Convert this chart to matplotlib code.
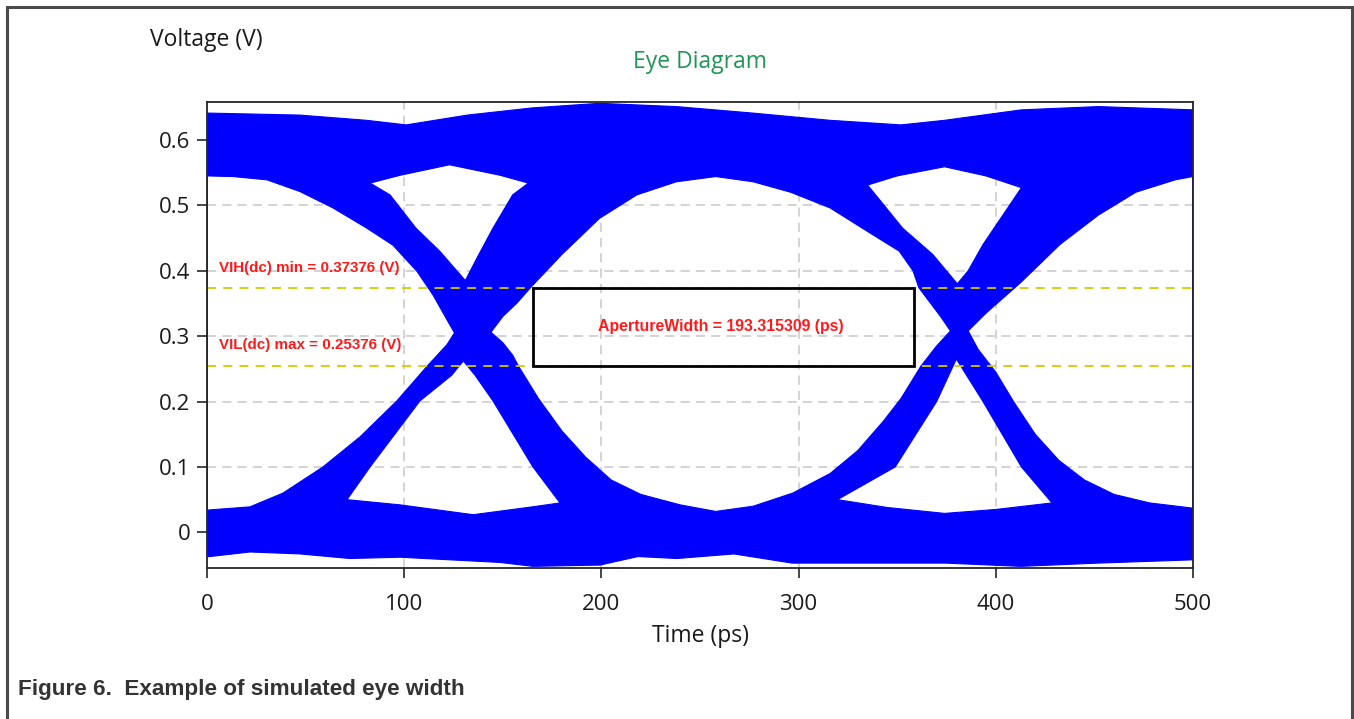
import matplotlib
matplotlib.use("Agg")
import matplotlib.pyplot as plt
from matplotlib.path import Path
from matplotlib.patches import PathPatch, Rectangle
from matplotlib import font_manager
from matplotlib.lines import Line2D

# ---------------- data ----------------
time_ticks = [0, 100, 200, 300, 400, 500]
volt_ticks = [0.0, 0.1, 0.2, 0.3, 0.4, 0.5, 0.6]
volt_tick_labels = ["0", "0.1", "0.2", "0.3", "0.4", "0.5", "0.6"]

vih_level = 0.37376
vil_level = 0.25376
aperture_start = 165.2
aperture_width = 193.315309

# outer envelope of all traces (top of upper rail, bottom of lower rail)
upper_env_t = [0, 1.5, 47, 81, 101, 132, 165, 199, 238, 277, 316, 352, 374, 413, 452, 500]
upper_env_v = [0.641, 0.641, 0.638, 0.630, 0.623, 0.638, 0.649, 0.656, 0.651, 0.641,
               0.630, 0.623, 0.630, 0.646, 0.651, 0.646]
lower_env_t = [0, 1.5, 21.8, 47.2, 72.5, 97.9, 123.2, 148.6, 165.3, 199.3, 218.6,
               238.3, 267.2, 296.7, 335.2, 374.2, 412.8, 451.8, 500]
lower_env_v = [-0.037, -0.037, -0.030, -0.033, -0.040, -0.038, -0.042, -0.046, -0.052,
               -0.050, -0.037, -0.040, -0.033, -0.047, -0.047, -0.047, -0.052, -0.047, -0.042]

# openings inside the eye (white areas)
left_eye_t = [0, 13.2, 30.4, 47.2, 63.9, 81.1, 94.3, 106.5, 114.6, 121.7, 125.5,
              121.7, 111.6, 96.3, 77.6, 58.8, 38.5, 21.8, 0]
left_eye_v = [0.545, 0.544, 0.539, 0.521, 0.496, 0.465, 0.439, 0.399, 0.363, 0.325, 0.305,
              0.287, 0.254, 0.201, 0.146, 0.100, 0.060, 0.039, 0.034]

center_eye_t = [144, 150, 157, 164, 180, 199, 218, 238, 258, 277, 296, 316, 335, 351, 358,
                361, 367, 372, 377,
                370, 362, 352, 343, 330, 316, 297, 277, 258, 240, 220, 205, 192, 180, 168,
                158, 155, 150]
center_eye_v = [0.306, 0.330, 0.350, 0.374, 0.425, 0.480, 0.516, 0.536, 0.544, 0.536, 0.520,
                0.496, 0.460, 0.430, 0.400, 0.374, 0.350, 0.330, 0.308,
                0.285, 0.254, 0.205, 0.170, 0.125, 0.090, 0.060, 0.040, 0.032, 0.042, 0.058,
                0.080, 0.115, 0.155, 0.205, 0.254, 0.271, 0.290]

right_eye_t = [386, 395, 413, 432.5, 452, 471, 491, 500,
               500, 478, 460, 445, 432, 420, 409, 400, 391]
right_eye_v = [0.308, 0.335, 0.383, 0.440, 0.485, 0.520, 0.539, 0.544,
               0.037, 0.045, 0.058, 0.080, 0.110, 0.150, 0.200, 0.245, 0.280]

upper_left_gap_t = [131, 118, 106, 92.8, 82.7, 98, 123, 148.6, 163, 155, 145, 137]
upper_left_gap_v = [0.385, 0.430, 0.465, 0.516, 0.534, 0.546, 0.562, 0.546, 0.534, 0.516,
                    0.465, 0.420]

upper_right_gap_t = [380.5, 368, 352.8, 335, 350, 374, 395, 413, 393.5, 386]
upper_right_gap_v = [0.380, 0.425, 0.465, 0.531, 0.545, 0.559, 0.545, 0.527, 0.440, 0.400]

lower_left_gap_t = [130, 124, 108, 82.7, 71, 98, 135, 165, 179, 165.3, 145, 136]
lower_left_gap_v = [0.262, 0.240, 0.201, 0.100, 0.050, 0.042, 0.027, 0.039, 0.045, 0.100,
                    0.201, 0.240]

lower_right_gap_t = [380, 370, 349, 319.7, 345, 374, 400, 428.5, 413, 393.5]
lower_right_gap_v = [0.265, 0.200, 0.100, 0.050, 0.038, 0.029, 0.035, 0.045, 0.100, 0.200]

# ---------------- figure ----------------
W, H = 1354, 719
fig = plt.figure(figsize=(W / 100, H / 100), dpi=100)
ax = fig.add_axes([207 / W, 1 - 568 / H, 986 / W, 466 / H])
ax.set_xlim(0, 500)
ax.set_ylim(-0.0545, 0.658)

sans = "Open Sans"
names = {f.name for f in font_manager.fontManager.ttflist}
narrow = "Liberation Sans Narrow" in names
red_font = ["Liberation Sans Narrow", "Liberation Sans"] if narrow else ["Liberation Sans"]
red_size = 12.5 if narrow else 10.9


def ring(ts, vs, ccw):
    pts = list(zip(ts, vs))
    area = 0.0
    for (x0, y0), (x1, y1) in zip(pts, pts[1:] + pts[:1]):
        area += x0 * y1 - x1 * y0
    if (area > 0) != ccw:
        pts = pts[::-1]
    verts = pts + [pts[0]]
    codes = [Path.MOVETO] + [Path.LINETO] * (len(pts) - 1) + [Path.CLOSEPOLY]
    return verts, codes


outer_t = list(upper_env_t) + list(lower_env_t[::-1])
outer_v = list(upper_env_v) + list(lower_env_v[::-1])
all_verts, all_codes = ring(outer_t, outer_v, True)
for ts, vs in [(left_eye_t, left_eye_v), (center_eye_t, center_eye_v),
               (right_eye_t, right_eye_v), (upper_left_gap_t, upper_left_gap_v),
               (upper_right_gap_t, upper_right_gap_v), (lower_left_gap_t, lower_left_gap_v),
               (lower_right_gap_t, lower_right_gap_v)]:
    v, c = ring(ts, vs, False)
    all_verts += v
    all_codes += c

eye = PathPatch(Path(all_verts, all_codes), facecolor="#0000ff", edgecolor="#0000ff",
                linewidth=0.8, joinstyle="round", zorder=2)
ax.add_patch(eye)

# grid
ax.set_axisbelow(True)
ax.set_xticks(time_ticks)
ax.set_yticks(volt_ticks)
ax.set_yticklabels(volt_tick_labels)
ax.grid(True, color="#c8c8c8", linestyle=(0, (6, 4)), linewidth=1.1)

# threshold lines
for lvl in (vih_level, vil_level):
    ax.axhline(lvl, color="#d2cc00", linestyle=(0, (5, 4)), linewidth=1.3, zorder=3)

# aperture box
ax.add_patch(Rectangle((aperture_start, vil_level), aperture_width, vih_level - vil_level,
                       fill=False, edgecolor="black", linewidth=2.0, zorder=4))

ax.text(6.3, 0.4048, "VIH(dc) min = %.5f (V)" % vih_level, color="#ff1a1a",
        fontsize=red_size, fontweight="bold", family=red_font, ha="left", va="center", zorder=5)
ax.text(6.3, 0.2866, "VIL(dc) max = %.5f (V)" % vil_level, color="#ff1a1a",
        fontsize=red_size, fontweight="bold", family=red_font, ha="left", va="center", zorder=5)
ax.text(aperture_start + aperture_width / 2 - 1.5, 0.3146,
        "ApertureWidth = %.6f (ps)" % aperture_width, color="#ff1a1a",
        fontsize=red_size + 0.5, fontweight="bold", family=red_font, ha="center",
        va="center", zorder=5)

# axes styling
for s in ax.spines.values():
    s.set_color("#262626")
    s.set_linewidth(1.3)
    s.set_zorder(6)
ax.tick_params(axis="both", direction="out", length=7, width=1.2, color="#262626",
               labelsize=16, labelcolor="#1a1a1a")
ax.tick_params(axis="x", pad=12)
ax.tick_params(axis="y", pad=5)
for lab in ax.get_xticklabels() + ax.get_yticklabels():
    lab.set_family(sans)

fig.text(150 / W, 1 - 40 / H, "Voltage (V)", fontsize=16.5, family=sans, color="#1a1a1a",
         ha="left", va="center")
fig.text(700 / W, 1 - 62 / H, "Eye Diagram", fontsize=16.5, family=sans, color="#1f9655",
         ha="center", va="center")
fig.text(700 / W, 1 - 636 / H, "Time (ps)", fontsize=16.5, family=sans, color="#1a1a1a",
         ha="center", va="center")
fig.text(18 / W, 1 - 689 / H, "Figure 6.  Example of simulated eye width", fontsize=16.2,
         family="Liberation Sans", fontweight="bold", color="#333333", ha="left", va="center")

# outer frame (open at the bottom)
frame_col = "#4a4a4a"
fig.add_artist(Line2D([7 / W, 7 / W], [0, 1 - 7 / H], color=frame_col, linewidth=2.2,
                      transform=fig.transFigure))
fig.add_artist(Line2D([7 / W, 1352 / W], [1 - 7 / H, 1 - 7 / H], color=frame_col,
                      linewidth=2.2, transform=fig.transFigure))
fig.add_artist(Line2D([1352 / W, 1352 / W], [0, 1 - 7 / H], color=frame_col, linewidth=2.2,
                      transform=fig.transFigure))

fig.savefig("out.png", dpi=100)
